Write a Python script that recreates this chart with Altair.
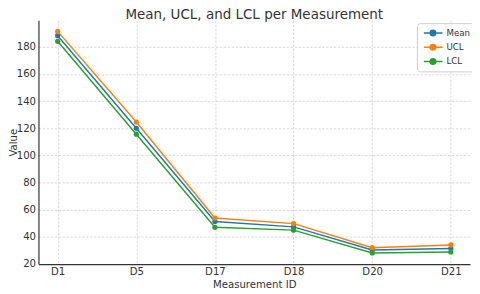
import altair as alt
import pandas as pd

ids = ["D1", "D5", "D17", "D18", "D20", "D21"]
mean = [188.2, 120.0, 51.2, 47.3, 30.3, 31.3]
ucl = [191.4, 124.6, 53.8, 49.7, 32.0, 34.0]
lcl = [184.1, 115.6, 47.0, 44.9, 28.1, 28.8]
series = ["Mean", "UCL", "LCL"]
colors = ["#1f77b4", "#ff7f0e", "#2ca02c"]
y_ticks = [20, 40, 60, 80, 100, 120, 140, 160, 180]
y_domain = [19.9, 199.6]

rows = []
for name, vals in zip(series, [mean, ucl, lcl]):
    for i, v in zip(ids, vals):
        rows.append({"id": i, "value": v, "series": name})
df = pd.DataFrame(rows)

FONT = "DejaVu Sans"
TXT = "#333333"
sym = "M-0.6,0H3.2M1.82,0A0.56,0.56,0,1,1,0.7,0A0.56,0.56,0,1,1,1.82,0Z"

color = alt.Color(
    "series:N",
    sort=series,
    scale=alt.Scale(domain=series, range=colors),
    legend=alt.Legend(
        title=None, orient="none", legendX=385, legendY=3,
        symbolType=sym, symbolSize=100, symbolStrokeWidth=1.5,
        labelOffset=14, padding=4, rowPadding=2.5,
        fillColor="white", strokeColor="#cccccc", cornerRadius=3,
        labelFontSize=8.8, labelColor=TXT, labelFont=FONT, symbolOpacity=1,
    ),
)

x = alt.X(
    "id:N", sort=ids,
    scale=alt.Scale(type="point", padding=0.244),
    axis=alt.Axis(title="Measurement ID", labelAngle=0, grid=True, ticks=False, tickSize=0,
                  labelPadding=11, labelBaseline="alphabetic", titleY=24,
                  titleBaseline="alphabetic"),
)
y = alt.Y(
    "value:Q",
    scale=alt.Scale(domain=y_domain, nice=False, zero=False),
    axis=alt.Axis(title="Value", values=y_ticks, ticks=False, tickSize=0, labelPadding=3,
                  titleX=-22.5, titleBaseline="alphabetic", grid=True),
)

base = alt.Chart(df).encode(x=x, y=y, color=color, detail="series:N")
lines = base.mark_line(strokeWidth=1.5)
points = base.mark_point(filled=True, size=28, opacity=1)

chart = (
    alt.layer(lines, points)
    .properties(
        width=439, height=248,
        title=alt.TitleParams("Mean, UCL, and LCL per Measurement", fontSize=13.7, font=FONT,
                              color=TXT, fontWeight="normal", offset=0, baseline="alphabetic",
                              anchor="middle", dy=12),
        autosize=alt.AutoSizeParams(type="none"),
        padding={"left": 31, "top": 10, "right": 2, "bottom": 28},
    )
    .configure_view(stroke=None)
    .configure_axis(
        labelFont=FONT, titleFont=FONT, labelFontSize=10.3, titleFontSize=10.3,
        labelColor=TXT, titleColor=TXT, titleFontWeight="normal",
        domainColor="#333333", domainWidth=1.2,
        gridColor="#d0d0d0", gridDash=[2.5, 1.5], gridWidth=0.8,
    )
)

chart.save("out.html", embed_options={"renderer": "svg", "actions": False})
